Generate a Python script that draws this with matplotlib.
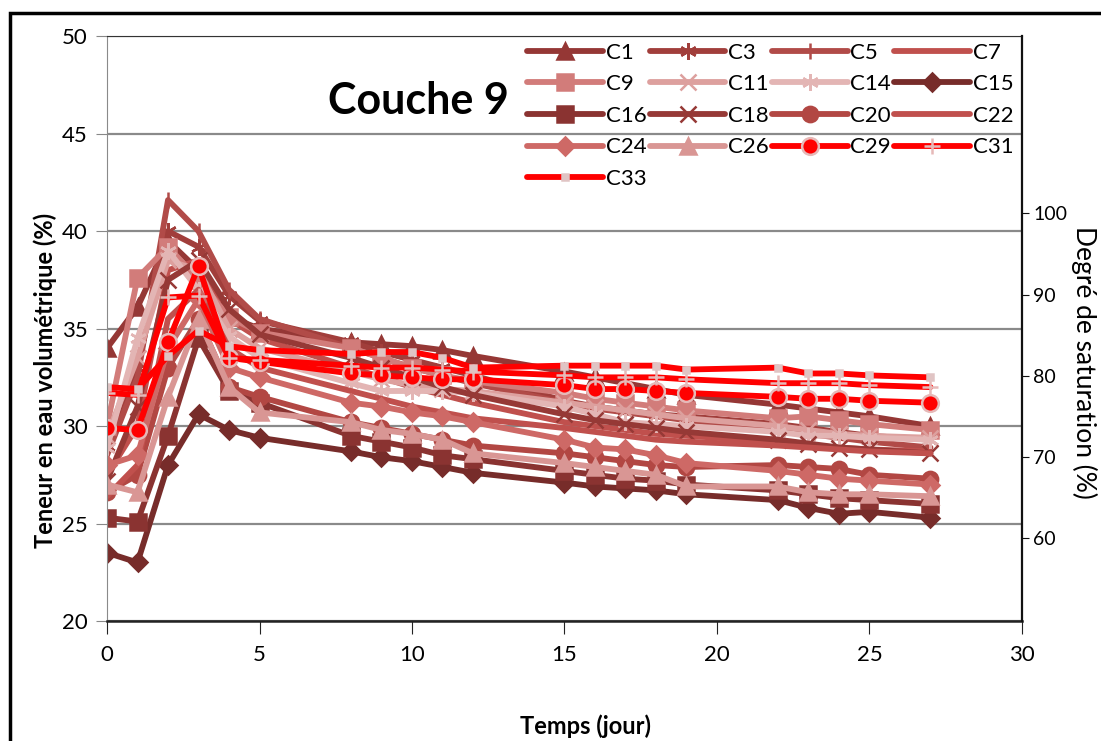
"""
Couche 9 : teneur en eau volumetrique et degre de saturation en fonction du temps.
"""

import matplotlib
matplotlib.use("Agg")
import matplotlib.pyplot as plt
from matplotlib.patches import Rectangle

plt.rcParams["font.family"] = ["Lato", "DejaVu Sans"]

# days of measurement (shared by all sensors)
days = [0, 1, 2, 3, 4, 5, 8, 9, 10, 11, 12, 15, 16, 17, 18, 19, 22, 23, 24, 25, 27]

# volumetric water content (%) read per sensor
c1 = [34.0, 36.1, 39.5, 38.0, 35.6, 35.0, 34.3, 34.2, 34.1, 33.9, 33.6, 32.8, 32.5, 32.2, 31.9, 31.6, 31.1, 30.9, 30.7, 30.5, 30.0]
c3 = [29.0, 33.0, 40.0, 39.2, 36.7, 35.4, 34.3, 33.8, 33.4, 33.0, 32.6, 31.3, 31.0, 30.8, 30.6, 30.5, 30.1, 29.9, 29.7, 29.5, 29.3]
c5 = [28.5, 32.5, 41.6, 40.0, 37.0, 35.5, 34.0, 33.5, 33.0, 32.6, 32.2, 31.2, 30.9, 30.7, 30.5, 30.3, 29.8, 29.6, 29.4, 29.2, 28.9]
c7 = [27.5, 30.0, 38.0, 38.5, 35.5, 34.5, 33.0, 32.5, 32.0, 31.6, 31.2, 30.2, 30.0, 29.8, 29.6, 29.5, 29.2, 29.0, 28.9, 28.8, 28.7]
c9 = [30.0, 37.6, 39.2, 37.5, 35.6, 34.8, 34.0, 33.5, 33.0, 32.6, 32.3, 31.7, 31.4, 31.2, 31.0, 30.8, 30.4, 30.5, 30.3, 30.1, 29.8]
c11 = [29.5, 33.5, 38.5, 38.0, 35.0, 34.0, 32.8, 32.4, 32.1, 31.9, 31.8, 31.2, 31.0, 30.8, 30.6, 30.4, 30.0, 29.8, 29.6, 29.5, 29.4]
c14 = [28.9, 34.5, 39.0, 37.0, 34.6, 33.5, 32.2, 31.8, 31.8, 31.8, 31.7, 31.0, 30.6, 30.2, 30.1, 30.0, 29.7, 29.5, 29.5, 29.4, 29.3]
c15 = [23.5, 23.0, 28.0, 30.6, 29.8, 29.4, 28.7, 28.4, 28.2, 27.9, 27.6, 27.1, 26.9, 26.8, 26.7, 26.5, 26.2, 25.8, 25.5, 25.6, 25.3]
c16 = [25.3, 25.1, 29.5, 34.5, 31.8, 31.2, 29.5, 29.2, 28.9, 28.5, 28.3, 27.7, 27.5, 27.3, 27.2, 27.0, 26.7, 26.5, 26.3, 26.2, 26.0]
c18 = [27.2, 31.0, 37.5, 38.5, 36.0, 34.7, 33.5, 33.0, 32.5, 32.0, 31.6, 30.6, 30.3, 30.1, 29.9, 29.7, 29.3, 29.1, 28.9, 28.8, 28.6]
c20 = [26.6, 27.5, 33.0, 35.5, 32.0, 31.5, 30.2, 29.9, 29.6, 29.3, 29.0, 28.6, 28.4, 28.2, 28.0, 27.9, 28.0, 27.9, 27.8, 27.5, 27.3]
c22 = [26.4, 28.0, 35.5, 37.0, 34.0, 33.0, 31.8, 31.4, 31.0, 30.7, 30.4, 29.9, 29.7, 29.5, 29.3, 29.2, 29.0, 28.9, 28.8, 28.7, 28.6]
c24 = [28.0, 28.5, 34.0, 36.5, 33.0, 32.5, 31.2, 31.0, 30.7, 30.5, 30.2, 29.3, 28.9, 28.8, 28.5, 28.1, 27.7, 27.5, 27.3, 27.2, 27.0]
c26 = [27.0, 26.6, 31.5, 35.5, 32.0, 30.7, 30.2, 29.8, 29.6, 29.3, 28.6, 28.1, 27.9, 27.7, 27.5, 26.9, 26.9, 26.6, 26.5, 26.5, 26.4]
c29 = [29.9, 29.8, 34.3, 38.2, 33.5, 33.3, 32.7, 32.6, 32.5, 32.4, 32.4, 32.1, 31.9, 31.9, 31.8, 31.7, 31.5, 31.4, 31.4, 31.3, 31.2]
c31 = [31.7, 31.6, 36.6, 36.7, 33.5, 33.4, 33.1, 33.0, 33.0, 32.9, 32.8, 32.6, 32.5, 32.5, 32.5, 32.4, 32.2, 32.2, 32.2, 32.1, 32.0]
c33 = [32.0, 31.9, 33.6, 34.9, 34.1, 33.9, 33.7, 33.8, 33.8, 33.5, 33.0, 33.1, 33.1, 33.1, 33.1, 32.9, 33.0, 32.7, 32.7, 32.6, 32.5]

labels = ["C1", "C3", "C5", "C7", "C9", "C11", "C14", "C15", "C16",
          "C18", "C20", "C22", "C24", "C26", "C29", "C31", "C33"]
series = [c1, c3, c5, c7, c9, c11, c14, c15, c16,
          c18, c20, c22, c24, c26, c29, c31, c33]

ASTER = (6, 2, 0)
# (line colour, marker, marker face, marker edge, marker size)
styles = {
    "C1": ("#953735", "^", "#953735", "#953735", 12),
    "C3": ("#A13E3B", ASTER, "#A13E3B", "#A13E3B", 12),
    "C5": ("#B14B48", "|", "#B14B48", "#B14B48", 12),
    "C7": ("#C0504D", None, None, None, 0),
    "C9": ("#D27C7A", "s", "#D27C7A", "#D27C7A", 11),
    "C11": ("#DDA09E", "x", "#DDA09E", "#DDA09E", 11),
    "C14": ("#E3B5B4", ASTER, "#E3B5B4", "#E3B5B4", 12),
    "C15": ("#772C2A", "D", "#772C2A", "#772C2A", 9),
    "C16": ("#8A3331", "s", "#8A3331", "#8A3331", 11),
    "C18": ("#963936", "x", "#963936", "#963936", 11),
    "C20": ("#B24743", "o", "#B24743", "#B24743", 11),
    "C22": ("#C0504D", None, None, None, 0),
    "C24": ("#CE6966", "D", "#CE6966", "#CE6966", 9),
    "C26": ("#D99694", "^", "#D99694", "#D99694", 12),
    "C29": ("#FF0000", "o", "#FF0000", "#E6B9B8", 12),
    "C31": ("#FF0000", "+", "#E6B9B8", "#E6B9B8", 12),
    "C33": ("#FF0000", "s", "#E0C4C4", "#E0C4C4", 5),
}

fig = plt.figure(figsize=(11.01, 7.41), dpi=100)
ax = fig.add_axes([0.0972, 0.162, 0.831, 0.789])

handles = {}
for name, vals in zip(labels, series):
    col, mk, mfc, mec, ms = styles[name]
    ln, = ax.plot(days, vals, color=col, lw=4.2, marker=mk, markersize=ms,
                  markerfacecolor=mfc, markeredgecolor=mec, markeredgewidth=1.8,
                  solid_capstyle="round", label=name)
    handles[name] = ln

ax.set_xlim(0, 30)
ax.set_ylim(20, 50)
ax.set_xticks(range(0, 31, 5))
ax.set_yticks(range(20, 51, 5))
ax.grid(axis="y", color="#8a8a8a", lw=1.6)
ax.set_axisbelow(True)
ax.spines["left"].set_color("#8a8a8a")
ax.spines["top"].set_color("#333333")
ax.spines["bottom"].set_color("#222222")
ax.spines["bottom"].set_linewidth(1.8)
ax.spines["right"].set_visible(False)
ax.tick_params(axis="y", direction="out", length=8, color="#888888", labelsize=16, pad=6)
ax.tick_params(axis="x", direction="out", length=9, color="#222222", labelsize=16, pad=8)

# secondary axis: degree of saturation
ax2 = ax.twinx()
ax2.set_ylim(49.8, 121.8)
ax2.set_yticks([60, 70, 80, 90, 100])
ax2.spines["right"].set_color("#111111")
ax2.spines["right"].set_linewidth(1.6)
for side in ("left", "top", "bottom"):
    ax2.spines[side].set_visible(False)
ax2.tick_params(axis="y", direction="out", length=5, color="#111111", labelsize=14, pad=3)

fig.text(45 / 1101, 1 - 380 / 741, "Teneur en eau volumétrique (%)", rotation=90,
         fontsize=17, fontweight="bold", ha="center", va="center")
fig.text(1084 / 1101, 1 - 362 / 741, "Degré de saturation (%)", rotation=-90,
         fontsize=19, ha="center", va="center")
fig.text(585 / 1101, 1 - 726 / 741, "Temps (jour)", fontsize=17,
         fontweight="bold", ha="center", va="center")

ax.text(0.34, 0.89, "Couche 9", transform=ax.transAxes, fontsize=31,
        fontweight="bold", ha="center", va="center")

# legend laid out row by row like the original (matplotlib fills columns)
order = ["C1", "C9", "C16", "C24", "C33",
         "C3", "C11", "C18", "C26",
         "C5", "C14", "C20", "C29",
         "C7", "C15", "C22", "C31"]
ax.legend([handles[n] for n in order], order, ncol=4, loc="upper left",
          bbox_to_anchor=(0.445, 1.012), frameon=False, fontsize=16,
          handlelength=3.4, handletextpad=0.12, columnspacing=0.15,
          labelspacing=0.52, borderaxespad=0.2)

# outer frame of the scanned figure
fig.patches.append(Rectangle((10 / 1101, -0.1), 1.2, 1.1 - 13 / 741,
                             transform=fig.transFigure, fill=False,
                             lw=2.5, ec="black"))

fig.savefig("out.png", dpi=100)
